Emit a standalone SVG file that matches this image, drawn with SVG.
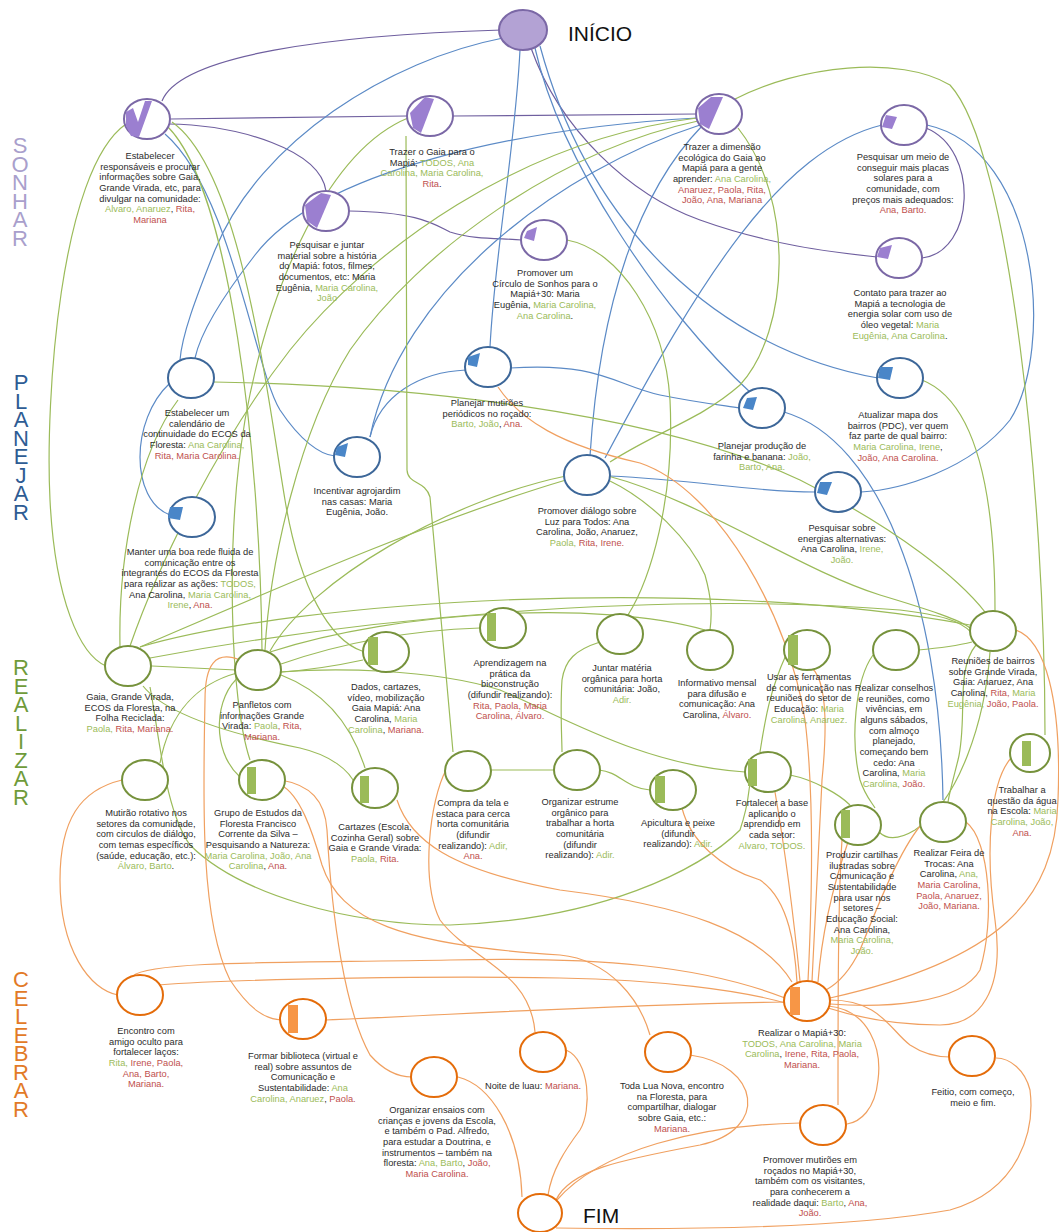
<svg xmlns="http://www.w3.org/2000/svg" width="1059" height="1232" viewBox="0 0 1059 1232">
<style>
.bg{fill:#ffffff}
.np{fill:#fff;stroke:#7b68a6;stroke-width:2}
.nb{fill:#fff;stroke:#3d6799;stroke-width:2}
.ng{fill:#fff;stroke:#76923c;stroke-width:2}
.no{fill:#fff;stroke:#e46c0a;stroke-width:2}
.fp{fill:#9b7fd0}
.fb{fill:#4a86c8}
.fg{fill:#9bbb59}
.fo{fill:#f79646}
.c{fill:none;stroke-width:1.2}
.cp{stroke:#6f5f9f}
.cb{stroke:#5b8ac6}
.cg{stroke:#9bbb59}
.co{stroke:#f0a060}
.t{font-family:"Liberation Sans",Arial,sans-serif;font-size:9.3px;fill:#2b2b2b;text-anchor:middle}
.g{fill:#9bbb59}
.r{fill:#c0504d}
.side{font-family:"Liberation Sans",Arial,sans-serif;font-size:22px;writing-mode:vertical-rl;text-orientation:upright;letter-spacing:-6.5px}
.big{font-family:"Liberation Sans",Arial,sans-serif;font-size:21px;fill:#111}
</style>
<rect class="bg" x="0" y="0" width="1059" height="1232"/>

<g id="stage-labels">
<text class="side" fill="#a99fcc" x="20" y="133">SONHAR</text>
<text class="side" fill="#2e5c94" x="21" y="370">PLANEJAR</text>
<text class="side" fill="#6f9b3a" x="21" y="655">REALIZAR</text>
<text class="side" fill="#e27a27" x="21" y="967">CELEBRAR</text>
</g>

<g id="connectors">
<!-- purple -->
<path class="c cp" d="M502,30 C330,35 180,55 162,101"/>
<path class="c cp" d="M171,119 L407,116"/>
<path class="c cp" d="M453,116 L697,114"/>
<path class="c cp" d="M168,124 C240,125 320,150 326,191"/>
<path class="c cp" d="M349,211 C420,212 435,225 450,232 C475,240 500,238 522,240"/>
<path class="c cp" d="M531,48 C560,130 630,195 700,220 C770,245 830,252 877,257"/>
<path class="c cp" d="M926,128 C980,150 975,252 922,258"/>
<!-- blue -->
<path class="c cb" d="M503,38 C390,60 260,140 215,250 C195,300 182,335 180,360"/>
<path class="c cb" d="M697,118 C520,128 320,170 255,255 C220,300 200,335 195,358"/>
<path class="c cb" d="M520,50 C515,150 495,250 490,347"/>
<path class="c cb" d="M535,48 C560,160 660,310 752,394"/>
<path class="c cb" d="M540,46 C590,230 720,350 878,378"/>
<path class="c cb" d="M700,125 C560,170 400,290 370,437"/>
<path class="c cb" d="M702,126 C640,190 600,300 590,456"/>
<path class="c cb" d="M882,125 C780,150 700,280 605,458"/>
<path class="c cb" d="M927,125 C1040,150 1055,350 1010,420 C970,470 900,490 861,492"/>
<path class="c cb" d="M170,383 C130,420 130,500 170,515"/>
<path class="c cb" d="M370,437 C380,395 420,372 466,370"/>
<path class="c cb" d="M510,368 C600,362 615,385 660,395 C700,403 720,405 740,408"/>
<path class="c cb" d="M610,476 C700,480 750,492 815,492"/>
<path class="c cb" d="M784,412 C880,440 940,600 943,800"/>
<path class="c cb" d="M165,134 C230,190 255,370 280,410 C300,440 320,455 335,456"/>
<!-- green -->
<path class="c cg" d="M126,124 C60,170 45,400 50,500 C55,600 80,655 106,666"/>
<path class="c cg" d="M172,122 C240,170 265,380 285,500 C300,590 330,640 362,651"/>
<path class="c cg" d="M168,127 C230,190 260,450 262,650"/>
<path class="c cg" d="M406,136 L407,470 C408,485 425,480 430,497 C440,600 448,700 453,752"/>
<path class="c cg" d="M408,118 C330,150 270,280 245,420 C225,540 230,700 250,760"/>
<path class="c cg" d="M697,118 C520,140 370,250 290,350 C220,440 160,560 130,646"/>
<path class="c cg" d="M698,121 C560,150 420,250 350,350 C300,430 270,560 265,650"/>
<path class="c cg" d="M738,128 C795,200 790,330 740,385 C700,420 660,430 610,462"/>
<path class="c cg" d="M733,100 C800,65 900,55 950,85 C1010,150 1045,500 1045,735"/>
<path class="c cg" d="M922,380 C960,395 995,450 995,611"/>
<path class="c cg" d="M567,240 C620,250 665,320 670,400 C675,500 650,580 628,615"/>
<path class="c cg" d="M214,382 C400,385 650,410 800,480 C900,530 960,580 985,612"/>
<path class="c cg" d="M178,400 C140,450 118,550 120,647"/>
<path class="c cg" d="M566,476 C450,500 310,580 270,651"/>
<path class="c cg" d="M566,480 C430,520 250,600 140,647"/>
<path class="c cg" d="M608,480 C650,500 690,540 705,575 C712,600 712,615 710,630"/>
<path class="c cg" d="M608,476 C700,500 800,570 880,595 C930,610 960,620 970,628"/>
<path class="c cg" d="M140,647 C300,600 700,575 970,625"/>
<path class="c cg" d="M150,658 C350,620 650,590 900,610 C940,615 960,620 972,633"/>
<path class="c cg" d="M270,652 C400,610 600,600 705,630"/>
<path class="c cg" d="M281,664 C350,640 420,630 480,628"/>
<path class="c cg" d="M152,666 L236,670"/>
<path class="c cg" d="M281,672 C310,670 340,665 363,660"/>
<path class="c cg" d="M160,763 C170,710 200,683 237,673"/>
<path class="c cg" d="M240,777 C210,750 215,695 240,676"/>
<path class="c cg" d="M143,686 C170,720 260,740 300,748 C330,755 350,770 356,786"/>
<path class="c cg" d="M150,687 C160,740 165,810 190,845 C240,895 350,925 450,925 C600,920 700,870 740,830 C750,800 748,790 750,785"/>
<path class="c cg" d="M745,772 C640,765 560,715 500,690 C430,668 330,668 281,672"/>
<path class="c cg" d="M281,675 C320,690 350,720 365,768"/>
<path class="c cg" d="M491,770 L553,770"/>
<path class="c cg" d="M599,770 C620,772 625,788 650,790"/>
<path class="c cg" d="M600,642 C575,650 565,660 562,680 C560,710 562,740 562,752"/>
<path class="c cg" d="M790,775 C815,780 840,795 850,805"/>
<path class="c cg" d="M786,655 C770,690 765,720 760,752"/>
<path class="c cg" d="M873,655 C855,680 850,740 860,780 C865,795 870,800 875,808"/>
<path class="c cg" d="M918,650 C940,648 960,645 972,642"/>
<path class="c cg" d="M976,645 C955,670 968,720 958,760 C953,780 950,790 948,802"/>
<path class="c cg" d="M990,652 C985,720 960,800 915,830 C895,842 885,838 879,832"/>
<!-- orange -->
<path class="c co" d="M498,387 C520,420 560,445 640,463 C720,490 790,620 805,720 C815,800 812,900 808,981"/>
<path class="c co" d="M122,780 C80,790 60,820 60,880 C60,950 90,990 118,995"/>
<path class="c co" d="M240,660 C215,650 205,665 205,700 C203,800 200,920 230,980 C250,1010 265,1019 281,1020"/>
<path class="c co" d="M281,780 C310,785 325,800 327,830 C332,920 345,1010 370,1055 C385,1072 400,1077 412,1077"/>
<path class="c co" d="M281,785 C300,795 312,830 322,865 C340,920 400,945 560,955 C610,960 640,1000 650,1035"/>
<path class="c co" d="M133,976 C150,960 300,963 450,960 C600,957 700,965 785,998"/>
<path class="c co" d="M158,985 C250,978 450,976 560,978 C660,980 740,990 785,1003"/>
<path class="c co" d="M326,1020 C450,1015 600,1005 785,1002"/>
<path class="c co" d="M446,770 C430,800 420,880 440,920 C470,960 530,970 535,1032"/>
<path class="c co" d="M397,800 C410,840 450,870 560,890 C680,905 760,930 792,982"/>
<path class="c co" d="M682,808 C690,840 720,868 760,880 C790,900 795,950 797,982"/>
<path class="c co" d="M566,1050 C590,1060 592,1110 580,1130 C565,1150 552,1170 548,1195"/>
<path class="c co" d="M690,1055 C760,1065 770,1130 700,1145 C620,1160 570,1170 556,1200"/>
<path class="c co" d="M800,1123 C700,1125 600,1150 557,1200"/>
<path class="c co" d="M556,1228 C700,1230 850,1228 950,1210 C1020,1190 1035,1130 1030,1090 C1025,1070 1010,1058 996,1058"/>
<path class="c co" d="M458,1077 C490,1085 520,1130 522,1197"/>
<path class="c co" d="M828,1006 C870,1010 882,1050 878,1080 C875,1110 860,1122 847,1124"/>
<path class="c co" d="M830,1000 C880,1000 890,1030 910,1045 C925,1055 940,1057 950,1057"/>
<path class="c co" d="M1016,630 C1045,640 1062,700 1058,800 C1055,900 1000,960 830,998"/>
<path class="c co" d="M1012,757 C990,780 985,850 995,920 C1005,990 980,1025 940,1025 C890,1025 850,1015 828,1008"/>
<path class="c co" d="M966,822 C990,840 995,920 980,970 C960,1005 880,1008 830,1004"/>
<path class="c co" d="M842,840 C838,900 838,1000 838,1105"/>
<path class="c co" d="M812,668 C825,680 828,720 822,780 C818,850 815,920 812,981"/>
<path class="c co" d="M775,792 C785,850 795,930 800,981"/>
<path class="c co" d="M848,842 C835,880 822,930 818,982"/>
<path class="c co" d="M921,825 C900,850 880,900 860,950 C848,975 835,985 826,990"/>
</g>

<g id="inicio"><ellipse cx="523" cy="30" rx="24" ry="20" fill="#b3a2d4" stroke="#7b68a6" stroke-width="2"/><text class="big" x="568" y="41">INÍCIO</text></g>
<g id="fim"><ellipse class="no" cx="540" cy="1213" rx="22" ry="19"/><text class="big" x="583" y="1223">FIM</text></g>

<g id="s1"><ellipse class="np" cx="147" cy="119" rx="23" ry="20"/><polygon class="fp" points="126,112 133,108 138,122 145,101 152,101 139,137 131,136 126,126"/>
<text class="t" x="150" y="159">Estabelecer</text><text class="t" x="150" y="170">responsáveis e procurar</text><text class="t" x="150" y="180">informações sobre Gaia,</text><text class="t" x="150" y="191">Grande Virada, etc, para</text><text class="t" x="150" y="202">divulgar na comunidade:</text><text class="t" x="150" y="212"><tspan class="g">Alvaro, Anaruez</tspan>, <tspan class="r">Rita,</tspan></text><text class="t r" x="150" y="223">Mariana</text></g>

<g id="s2"><ellipse class="np" cx="430" cy="116" rx="23" ry="20"/><polygon class="fp" points="410,113 425,97 434,99 421,133 413,128"/>
<text class="t" x="432" y="155">Trazer o  Gaia para o</text><text class="t" x="432" y="166">Mapiá; <tspan class="g">TODOS, Ana</tspan></text><text class="t g" x="432" y="176">Carolina, Maria Carolina,</text><text class="t" x="432" y="187"><tspan class="r">Rita</tspan>.</text></g>

<g id="s3"><ellipse class="np" cx="719" cy="114" rx="23" ry="20"/><polygon class="fp" points="698,108 711,97 723,97 709,129 700,124"/>
<text class="t" x="722" y="150">Trazer a dimensão</text><text class="t" x="722" y="161">ecológica do Gaia ao</text><text class="t" x="722" y="171">Mapiá para a gente</text><text class="t" x="722" y="182">aprender:  <tspan class="g">Ana Carolina,</tspan></text><text class="t r" x="722" y="193">Anaruez, Paola, Rita,</text><text class="t r" x="722" y="203">João, Ana, Mariana</text></g>

<g id="s4"><ellipse class="np" cx="904" cy="125" rx="23" ry="20"/><polygon class="fp" points="886,115 897,117 892,129 882,127"/>
<text class="t" x="903" y="160">Pesquisar um meio de</text><text class="t" x="903" y="171">conseguir mais placas</text><text class="t" x="903" y="181">solares para a</text><text class="t" x="903" y="192">comunidade, com</text><text class="t" x="903" y="203">preços mais adequados:</text><text class="t r" x="903" y="213">Ana, Barto.</text></g>

<g id="s5"><ellipse class="np" cx="326" cy="211" rx="23" ry="20"/><polygon class="fp" points="305,205 321,193 331,195 317,228 307,221"/>
<text class="t" x="327" y="248">Pesquisar e juntar</text><text class="t" x="327" y="259">material sobre a história</text><text class="t" x="327" y="269">do Mapiá: fotos, filmes,</text><text class="t" x="327" y="280">documentos, etc:  Maria</text><text class="t" x="327" y="291">Eugênia, <tspan class="g">Maria Carolina,</tspan></text><text class="t g" x="327" y="301">João</text></g>

<g id="s6"><ellipse class="np" cx="544" cy="240" rx="23" ry="20"/><polygon class="fp" points="527,231 537,227 534,241 524,238"/>
<text class="t" x="545" y="276">Promover um</text><text class="t" x="545" y="287">Círculo de Sonhos para o</text><text class="t" x="545" y="297">Mapiá+30: Maria</text><text class="t" x="545" y="308">Eugênia, <tspan class="g">Maria Carolina,</tspan></text><text class="t" x="545" y="319"><tspan class="g">Ana Carolina</tspan>.</text></g>

<g id="s7"><ellipse class="np" cx="899" cy="258" rx="23" ry="20"/><polygon class="fp" points="880,248 892,245 888,259 877,257"/>
<text class="t" x="900" y="296">Contato para trazer ao</text><text class="t" x="900" y="307">Mapiá a tecnologia de</text><text class="t" x="900" y="317">energia solar com uso de</text><text class="t" x="900" y="328">óleo vegetal:  <tspan class="g">Maria</tspan></text><text class="t" x="900" y="339"><tspan class="g">Eugênia, Ana Carolina</tspan>.</text></g>

<g id="p1"><ellipse class="nb" cx="191" cy="378" rx="23" ry="20"/>
<text class="t" x="197" y="416">Estabelecer um</text><text class="t" x="197" y="427">calendário de</text><text class="t" x="197" y="437">continuidade do ECOS da</text><text class="t" x="197" y="448">Floresta: <tspan class="g">Ana Carolina,</tspan></text><text class="t r" x="197" y="459">Rita, Maria Carolina.</text></g>

<g id="p2"><ellipse class="nb" cx="488" cy="367" rx="23" ry="20"/><polygon class="fb" points="468,357 480,353 477,367 468,365"/>
<text class="t" x="487" y="406">Planejar mutirões</text><text class="t" x="487" y="417">periódicos no roçado:</text><text class="t" x="487" y="427"><tspan class="g">Barto, João</tspan>, <tspan class="r">Ana.</tspan></text></g>

<g id="p3"><ellipse class="nb" cx="900" cy="378" rx="23" ry="20"/><polygon class="fb" points="880,367 893,367 890,380 878,378"/>
<text class="t" x="898" y="418">Atualizar mapa dos</text><text class="t" x="898" y="429">bairros (PDC), ver quem</text><text class="t" x="898" y="439">faz parte de qual bairro:</text><text class="t" x="898" y="450"><tspan class="g">Maria Carolina, Irene</tspan>,</text><text class="t r" x="898" y="461">João, Ana Carolina.</text></g>

<g id="p4"><ellipse class="nb" cx="762" cy="408" rx="23" ry="20"/><polygon class="fb" points="747,398 757,397 753,410 743,408"/>
<text class="t" x="762" y="449">Planejar produção de</text><text class="t" x="762" y="460">farinha e banana:  <tspan class="g">João,</tspan></text><text class="t g" x="762" y="470">Barto, Ana.</text></g>

<g id="p5"><ellipse class="nb" cx="357" cy="457" rx="23" ry="20"/><polygon class="fb" points="337,447 348,443 345,457 335,455"/>
<text class="t" x="357" y="494">Incentivar agrojardim</text><text class="t" x="357" y="505">nas casas:  Maria</text><text class="t" x="357" y="515">Eugênia, João.</text></g>

<g id="p6"><ellipse class="nb" cx="587" cy="475" rx="23" ry="20"/>
<text class="t" x="587" y="514">Promover diálogo sobre</text><text class="t" x="587" y="525">Luz para Todos: Ana</text><text class="t" x="587" y="535">Carolina, João, Anaruez,</text><text class="t" x="587" y="546"><tspan class="g">Paola, </tspan><tspan class="r">Rita, Irene.</tspan></text></g>

<g id="p7"><ellipse class="nb" cx="838" cy="492" rx="23" ry="20"/><polygon class="fb" points="820,482 832,482 827,495 817,493"/>
<text class="t" x="842" y="531">Pesquisar sobre</text><text class="t" x="842" y="542">energias alternativas:</text><text class="t" x="842" y="552">Ana Carolina, <tspan class="g">Irene,</tspan></text><text class="t g" x="842" y="563">João.</text></g>

<g id="p8"><ellipse class="nb" cx="192" cy="517" rx="23" ry="20"/><polygon class="fb" points="170,507 183,507 180,520 168,518"/>
<text class="t" x="190" y="555">Manter uma boa rede fluida de</text><text class="t" x="190" y="566">comunicação entre os</text><text class="t" x="190" y="576">integrantes do ECOS da Floresta</text><text class="t" x="190" y="587">para realizar as ações:  <tspan class="g">TODOS,</tspan></text><text class="t" x="190" y="598">Ana Carolina, <tspan class="g">Maria Carolina,</tspan></text><text class="t" x="190" y="608"><tspan class="g">Irene</tspan>, <tspan class="r">Ana.</tspan></text></g>

<g id="r1"><ellipse class="ng" cx="128" cy="666" rx="23" ry="20"/>
<text class="t" x="130" y="700">Gaia, Grande Virada,</text><text class="t" x="130" y="711">ECOS da Floresta, na</text><text class="t" x="130" y="721">Folha Reciclada:</text><text class="t" x="130" y="732"><tspan class="g">Paola, </tspan><tspan class="r">Rita, Mariana.</tspan></text></g>

<g id="r2"><ellipse class="ng" cx="258" cy="670" rx="23" ry="20"/>
<text class="t" x="262" y="708">Panfletos com</text><text class="t" x="262" y="719">informações Grande</text><text class="t" x="262" y="729">Virada:  <tspan class="g">Paola</tspan><tspan class="r">, Rita,</tspan></text><text class="t r" x="262" y="740">Mariana.</text></g>

<g id="r3"><ellipse class="ng" cx="386" cy="652" rx="23" ry="20"/><rect class="fg" x="368" y="637" width="10" height="28"/>
<text class="t" x="386" y="690">Dados, cartazes,</text><text class="t" x="386" y="701">vídeo, mobilização</text><text class="t" x="386" y="711">Gaia Mapiá:  Ana</text><text class="t" x="386" y="722">Carolina, <tspan class="g">Maria</tspan></text><text class="t" x="386" y="733"><tspan class="g">Carolina</tspan>, <tspan class="r">Mariana.</tspan></text></g>

<g id="r4"><ellipse class="ng" cx="503" cy="628" rx="23" ry="20"/><rect class="fg" x="487" y="613" width="9" height="28"/>
<text class="t" x="510" y="666">Aprendizagem na</text><text class="t" x="510" y="677">prática da</text><text class="t" x="510" y="687">bioconstrução</text><text class="t" x="510" y="698">(difundir realizando):</text><text class="t r" x="510" y="709">Rita, Paola, Maria</text><text class="t r" x="510" y="719">Carolina, Álvaro.</text></g>

<g id="r5"><ellipse class="ng" cx="620" cy="634" rx="23" ry="20"/>
<text class="t" x="622" y="671">Juntar matéria</text><text class="t" x="622" y="682">orgânica para horta</text><text class="t" x="622" y="692">comunitária:  João,</text><text class="t g" x="622" y="703">Adir.</text></g>

<g id="r6"><ellipse class="ng" cx="710" cy="650" rx="23" ry="20"/>
<text class="t" x="717" y="686">Informativo mensal</text><text class="t" x="717" y="697">para difusão e</text><text class="t" x="717" y="707">comunicação:  Ana</text><text class="t" x="717" y="718">Carolina, <tspan class="r">Álvaro.</tspan></text></g>

<g id="r7"><ellipse class="ng" cx="807" cy="650" rx="23" ry="20"/><rect class="fg" x="788" y="635" width="10" height="30"/>
<text class="t" x="809" y="680">Usar as ferramentas</text><text class="t" x="809" y="691">de comunicação nas</text><text class="t" x="809" y="701">reuniões do setor de</text><text class="t" x="809" y="712">Educação: <tspan class="g">Maria</tspan></text><text class="t g" x="809" y="723">Carolina, Anaruez.</text></g>

<g id="r8"><ellipse class="ng" cx="896" cy="650" rx="23" ry="20"/>
<text class="t" x="894" y="691">Realizar conselhos</text><text class="t" x="894" y="702">e reuniões, como</text><text class="t" x="894" y="712">vivências, em</text><text class="t" x="894" y="723">alguns sábados,</text><text class="t" x="894" y="734">com almoço</text><text class="t" x="894" y="744">planejado,</text><text class="t" x="894" y="755">começando bem</text><text class="t" x="894" y="766">cedo: Ana</text><text class="t" x="894" y="776">Carolina, <tspan class="g">Maria</tspan></text><text class="t" x="894" y="787"><tspan class="g">Carolina, </tspan><tspan class="r">João.</tspan></text></g>

<g id="r9"><ellipse class="ng" cx="993" cy="631" rx="23" ry="20"/>
<text class="t" x="993" y="664">Reuniões de bairros</text><text class="t" x="993" y="675">sobre Grande Virada,</text><text class="t" x="993" y="685">Gaia:  Anaruez, Ana</text><text class="t" x="993" y="696">Carolina, <tspan class="r">Rita, </tspan><tspan class="g">Maria</tspan></text><text class="t" x="993" y="707"><tspan class="g">Eugênia, </tspan><tspan class="r">João, Paola.</tspan></text></g>

<g id="r10"><ellipse class="ng" cx="145" cy="780" rx="23" ry="20"/>
<text class="t" x="146" y="816">Mutirão rotativo nos</text><text class="t" x="146" y="827">setores da comunidade,</text><text class="t" x="146" y="837">com circulos de diálogo,</text><text class="t" x="146" y="848">com temas específicos</text><text class="t" x="146" y="859">(saúde, educação, etc.):</text><text class="t" x="146" y="869"><tspan class="g">Álvaro, Barto</tspan>.</text></g>

<g id="r11"><ellipse class="ng" cx="262" cy="780" rx="23" ry="20"/><rect class="fg" x="247" y="767" width="9" height="27"/>
<text class="t" x="258" y="816">Grupo de Estudos da</text><text class="t" x="258" y="827">Floresta Francisco</text><text class="t" x="258" y="837">Corrente da Silva –</text><text class="t" x="258" y="848">Pesquisando a Natureza:</text><text class="t g" x="258" y="859">Maria Carolina, João, Ana</text><text class="t" x="258" y="869"><tspan class="g">Carolina</tspan>, <tspan class="r">Ana.</tspan></text></g>

<g id="r12"><ellipse class="ng" cx="375" cy="788" rx="23" ry="20"/><rect class="fg" x="360" y="776" width="9" height="27"/>
<text class="t" x="375" y="830">Cartazes (Escola,</text><text class="t" x="375" y="841">Cozinha Geral) sobre</text><text class="t" x="375" y="851">Gaia e Grande Virada:</text><text class="t" x="375" y="862"><tspan class="g">Paola, </tspan><tspan class="r">Rita.</tspan></text></g>

<g id="r13"><ellipse class="ng" cx="468" cy="771" rx="23" ry="20"/>
<text class="t" x="473" y="806">Compra da tela e</text><text class="t" x="473" y="817">estaca para cerca</text><text class="t" x="473" y="827">horta comunitária</text><text class="t" x="473" y="838">(difundir</text><text class="t" x="473" y="849">realizando):  <tspan class="g">Adir,</tspan></text><text class="t r" x="473" y="859">Ana.</text></g>

<g id="r14"><ellipse class="ng" cx="577" cy="770" rx="23" ry="20"/>
<text class="t" x="580" y="805">Organizar estrume</text><text class="t" x="580" y="816">orgânico para</text><text class="t" x="580" y="826">trabalhar a horta</text><text class="t" x="580" y="837">comunitária</text><text class="t" x="580" y="848">(difundir</text><text class="t" x="580" y="858">realizando):  <tspan class="g">Adir.</tspan></text></g>

<g id="r15"><ellipse class="ng" cx="673" cy="790" rx="23" ry="20"/><rect class="fg" x="655" y="776" width="10" height="27"/>
<text class="t" x="678" y="826">Apicultura e peixe</text><text class="t" x="678" y="837">(difundir</text><text class="t" x="678" y="847">realizando): <tspan class="g">Adir.</tspan></text></g>

<g id="r16"><ellipse class="ng" cx="768" cy="772" rx="23" ry="20"/><rect class="fg" x="748" y="759" width="9" height="27"/>
<text class="t" x="772" y="806">Fortalecer a base</text><text class="t" x="772" y="817">aplicando o</text><text class="t" x="772" y="827">aprendido em</text><text class="t" x="772" y="838">cada setor:</text><text class="t g" x="772" y="849">Alvaro, TODOS.</text></g>

<g id="r17"><ellipse class="ng" cx="858" cy="825" rx="23" ry="20"/><rect class="fg" x="841" y="810" width="9" height="28"/>
<text class="t" x="862" y="858">Produzir cartilhas</text><text class="t" x="862" y="869">ilustradas sobre</text><text class="t" x="862" y="879">Comunicação e</text><text class="t" x="862" y="890">Sustentabilidade</text><text class="t" x="862" y="901">para usar nos</text><text class="t" x="862" y="911">setores –</text><text class="t" x="862" y="922">Educação Social:</text><text class="t" x="862" y="933">Ana Carolina,</text><text class="t g" x="862" y="943">Maria Carolina,</text><text class="t g" x="862" y="954">João.</text></g>

<g id="r18"><ellipse class="ng" cx="943" cy="822" rx="23" ry="20"/>
<text class="t" x="949" y="856">Realizar Feira de</text><text class="t" x="949" y="867">Trocas:  Ana</text><text class="t" x="949" y="877">Carolina, <tspan class="g">Ana,</tspan></text><text class="t r" x="949" y="888">Maria Carolina,</text><text class="t r" x="949" y="899">Paola, Anaruez,</text><text class="t r" x="949" y="909">João, Mariana.</text></g>

<g id="r19"><ellipse class="ng" cx="1030" cy="753" rx="20" ry="19"/><rect class="fg" x="1022" y="741" width="9" height="25"/>
<text class="t" x="1022" y="793">Trabalhar a</text><text class="t" x="1022" y="804">questão da água</text><text class="t" x="1022" y="814">na Escola:  <tspan class="g">Maria</tspan></text><text class="t g" x="1022" y="825">Carolina, João,</text><text class="t r" x="1022" y="836">Ana.</text></g>

<g id="c1"><ellipse class="no" cx="140" cy="995" rx="23" ry="20"/>
<text class="t" x="146" y="1034">Encontro com</text><text class="t" x="146" y="1045">amigo oculto para</text><text class="t" x="146" y="1055">fortalecer laços:</text><text class="t" x="146" y="1066"><tspan class="g">Rita, </tspan><tspan class="r">Irene, Paola,</tspan></text><text class="t r" x="146" y="1077">Ana, Barto,</text><text class="t r" x="146" y="1087">Mariana.</text></g>

<g id="c2"><ellipse class="no" cx="303" cy="1019" rx="23" ry="20"/><rect class="fo" x="288" y="1005" width="10" height="28"/>
<text class="t" x="303" y="1059">Formar biblioteca (virtual e</text><text class="t" x="303" y="1070">real) sobre assuntos de</text><text class="t" x="303" y="1080">Comunicação e</text><text class="t" x="303" y="1091">Sustentabilidade:  <tspan class="g">Ana</tspan></text><text class="t" x="303" y="1102"><tspan class="g">Carolina, Anaruez</tspan>, <tspan class="r">Paola.</tspan></text></g>

<g id="c3"><ellipse class="no" cx="543" cy="1052" rx="23" ry="20"/>
<text class="t" x="533" y="1089">Noite de luau: <tspan class="r">Mariana.</tspan></text></g>

<g id="c4"><ellipse class="no" cx="668" cy="1052" rx="23" ry="20"/>
<text class="t" x="672" y="1089">Toda Lua Nova, encontro</text><text class="t" x="672" y="1100">na Floresta, para</text><text class="t" x="672" y="1110">compartilhar, dialogar</text><text class="t" x="672" y="1121">sobre Gaia, etc.:</text><text class="t r" x="672" y="1132">Mariana.</text></g>

<g id="c5"><ellipse class="no" cx="807" cy="1001" rx="23" ry="20"/><rect class="fo" x="790" y="987" width="10" height="28"/>
<text class="t" x="802" y="1036">Realizar o Mapiá+30:</text><text class="t g" x="802" y="1047">TODOS, Ana Carolina, Maria</text><text class="t" x="802" y="1057"><tspan class="g">Carolina</tspan>, <tspan class="r">Irene, Rita, Paola,</tspan></text><text class="t r" x="802" y="1068">Mariana.</text></g>

<g id="c6"><ellipse class="no" cx="972" cy="1056" rx="23" ry="20"/>
<text class="t" x="973" y="1095">Feitio, com começo,</text><text class="t" x="973" y="1106">meio e fim.</text></g>

<g id="c7"><ellipse class="no" cx="434" cy="1077" rx="23" ry="20"/>
<text class="t" x="437" y="1113">Organizar ensaios com</text><text class="t" x="437" y="1124">crianças e jovens da Escola,</text><text class="t" x="437" y="1134">e também o Pad. Alfredo,</text><text class="t" x="437" y="1145">para estudar a Doutrina, e</text><text class="t" x="437" y="1156">instrumentos – também na</text><text class="t" x="437" y="1166">floresta:  <tspan class="g">Ana, Barto</tspan>, <tspan class="r">João,</tspan></text><text class="t r" x="437" y="1177">Maria Carolina.</text></g>

<g id="c8"><ellipse class="no" cx="823" cy="1125" rx="23" ry="20"/>
<text class="t" x="810" y="1163">Promover mutirões em</text><text class="t" x="810" y="1174">roçados no Mapiá+30,</text><text class="t" x="810" y="1184">também com os visitantes,</text><text class="t" x="810" y="1195">para conhecerem a</text><text class="t" x="810" y="1206">realidade daqui: <tspan class="g">Barto</tspan>, <tspan class="r">Ana,</tspan></text><text class="t r" x="810" y="1216">João.</text></g>
</svg>
